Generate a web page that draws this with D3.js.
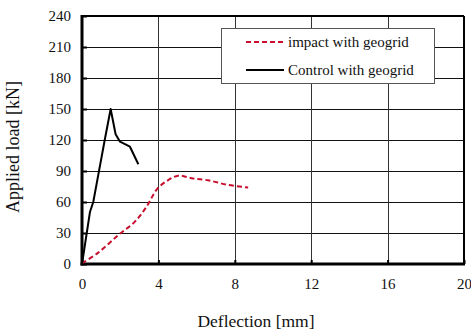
<!DOCTYPE html>
<html>
<head>
<meta charset="utf-8">
<script src="https://cdn.jsdelivr.net/npm/d3@7"></script>
<style>
  html, body { margin: 0; padding: 0; background: #fff; }
  svg { display: block; }
  svg text { font-family: "Liberation Serif", "Times New Roman", Times, serif; fill: #111; }
</style>
</head>
<body>
<svg id="chart" width="471" height="333"></svg>
<script>
// Load–deflection curves for the two slabs with geogrid
const impactDeflection = [0, 0.85, 1.9, 2.77, 3.38, 3.95, 4.5, 5.04, 5.74, 6.6, 7.65, 8.7];
const impactLoad       = [0.7, 11, 28, 41, 55.5, 73, 81, 85.5, 83, 81, 76.5, 74];

const controlDeflection = [0, 0.42, 0.59, 0.85, 1.2, 1.5, 1.76, 1.99, 2.51, 2.95];
const controlLoad       = [0, 50.6, 60, 86, 121, 150, 125.5, 118.4, 113.5, 96.5];

const xTicks = [0, 4, 8, 12, 16, 20];
const yTicks = [0, 30, 60, 90, 120, 150, 180, 210, 240];

const seriesNames = ["impact with geogrid", "Control with geogrid"];

const serif = "'Liberation Serif', 'Times New Roman', Times, serif";
const svg = d3.select("#chart");
const plotLeft = 82, plotRight = 464, plotTop = 16, plotBottom = 264;

const x = d3.scaleLinear().domain([0, 20]).range([plotLeft, plotRight]);
const y = d3.scaleLinear().domain([0, 240]).range([plotBottom, plotTop]);

// grid
const grid = svg.append("g");
grid.selectAll("line.h").data(yTicks.slice(1, -1)).join("line")
  .attr("x1", plotLeft).attr("x2", plotRight)
  .attr("y1", d => Math.round(y(d)) + 0.5).attr("y2", d => Math.round(y(d)) + 0.5)
  .attr("stroke", "#111").attr("stroke-width", 1);
grid.selectAll("line.v").data(xTicks.slice(1, -1)).join("line")
  .attr("y1", plotTop).attr("y2", plotBottom)
  .attr("x1", d => Math.round(x(d)) + 0.5).attr("x2", d => Math.round(x(d)) + 0.5)
  .attr("stroke", "#333").attr("stroke-width", 1);

// axes with inward ticks
const xAxis = d3.axisBottom(x).tickValues(xTicks).tickSize(-4).tickPadding(14).tickFormat(d3.format("d"));
const yAxis = d3.axisLeft(y).tickValues(yTicks).tickSize(-5).tickPadding(11).tickFormat(d3.format("d"));

const gx = svg.append("g").attr("transform", `translate(0,${plotBottom})`).call(xAxis);
const gy = svg.append("g").attr("transform", `translate(${plotLeft},0)`).call(yAxis);
[gx, gy].forEach(g => {
  g.attr("font-family", serif).attr("font-size", 15);
  g.select(".domain").remove();
  g.selectAll(".tick line").attr("stroke", "#000").attr("stroke-width", 2);
  g.selectAll(".tick text").attr("fill", "#111");
});

// frame: heavier left and bottom edges
svg.append("line").attr("x1", plotLeft).attr("x2", plotRight).attr("y1", plotTop).attr("y2", plotTop)
  .attr("stroke", "#000").attr("stroke-width", 2);
svg.append("line").attr("x1", plotRight).attr("x2", plotRight).attr("y1", plotTop).attr("y2", plotBottom)
  .attr("stroke", "#000").attr("stroke-width", 2);
svg.append("line").attr("x1", plotLeft).attr("x2", plotLeft).attr("y1", plotTop - 1).attr("y2", plotBottom + 1.5)
  .attr("stroke", "#000").attr("stroke-width", 3);
svg.append("line").attr("x1", plotLeft - 1.5).attr("x2", plotRight + 1).attr("y1", plotBottom).attr("y2", plotBottom)
  .attr("stroke", "#000").attr("stroke-width", 3);

// series
const impactPts = impactDeflection.map((d, i) => [d, impactLoad[i]]);
const controlPts = controlDeflection.map((d, i) => [d, controlLoad[i]]);

svg.append("path").datum(impactPts)
  .attr("d", d3.line().x(d => x(d[0])).y(d => y(d[1])).curve(d3.curveCatmullRom.alpha(0.5)))
  .attr("fill", "none").attr("stroke", "#c8102e").attr("stroke-width", 2)
  .attr("stroke-dasharray", "5,3");

svg.append("path").datum(controlPts)
  .attr("d", d3.line().x(d => x(d[0])).y(d => y(d[1])))
  .attr("fill", "none").attr("stroke", "#000").attr("stroke-width", 2)
  .attr("stroke-linejoin", "round");

// legend
const lg = svg.append("g");
lg.append("rect").attr("x", 221.5).attr("y", 28.5).attr("width", 213).attr("height", 55)
  .attr("fill", "#fff").attr("stroke", "#555").attr("stroke-width", 1);
const legendStyles = [
  { stroke: "#c8102e", dash: "5,3" },
  { stroke: "#000", dash: null }
];
seriesNames.forEach((name, i) => {
  const cy = 42 + i * 28;
  lg.append("line").attr("x1", 246).attr("x2", 284).attr("y1", cy).attr("y2", cy)
    .attr("stroke", legendStyles[i].stroke).attr("stroke-width", 2)
    .attr("stroke-dasharray", legendStyles[i].dash);
  lg.append("text").attr("x", 288).attr("y", cy + 5)
    .style("font-size", "15px").text(name);
});

// axis titles
svg.append("text").attr("x", 256).attr("y", 327).attr("text-anchor", "middle")
  .style("font-size", "17.5px").text("Deflection [mm]");
svg.append("text").attr("transform", "translate(19,147) rotate(-90)").attr("text-anchor", "middle")
  .style("font-size", "18px").text("Applied load [kN]");
</script>
</body>
</html>
